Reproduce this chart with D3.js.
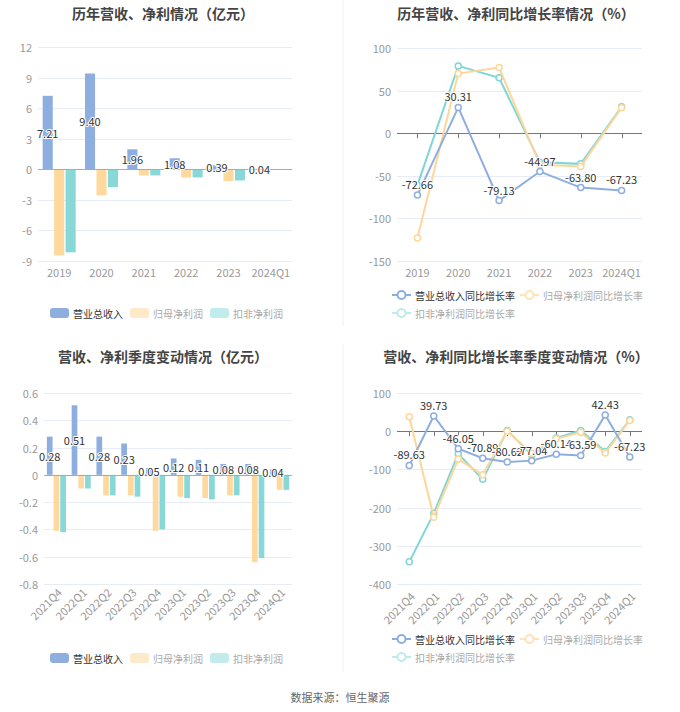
<!DOCTYPE html>
<html><head><meta charset="utf-8">
<script src="https://cdn.jsdelivr.net/npm/d3@7"></script>
<style>
body{margin:0;background:#fff;}
svg{font-family:"Noto Sans CJK SC","Noto Sans",sans-serif;}
</style></head>
<body><svg id="c" width="680" height="712"></svg>
<script>
// ---- data ----
const years = ["2019","2020","2021","2022","2023","2024Q1"];
const yearRevenue = [7.21, 9.40, 1.96, 1.08, 0.39, 0.04];
const yearNetProfit = [-8.45, -2.55, -0.60, -0.80, -1.15, -0.05];
const yearDeductedProfit = [-8.15, -1.75, -0.60, -0.80, -1.10, -0.05];
const yearRevenueGrowth = [-72.66, 30.31, -79.13, -44.97, -63.80, -67.23];
const yearNetGrowth = [-123, 70, 77, -37, -39, 30];
const yearDeductedGrowth = [-61, 79, 65, -34, -36, 31];
const quarters = ["2021Q4","2022Q1","2022Q2","2022Q3","2022Q4","2023Q1","2023Q2","2023Q3","2023Q4","2024Q1"];
const qRevenue = [0.28, 0.51, 0.28, 0.23, 0.05, 0.12, 0.11, 0.08, 0.08, 0.04];
const qNetProfit = [-0.41, -0.10, -0.15, -0.15, -0.41, -0.16, -0.17, -0.15, -0.64, -0.11];
const qDeductedProfit = [-0.42, -0.10, -0.15, -0.16, -0.40, -0.17, -0.18, -0.15, -0.61, -0.11];
const qRevenueGrowth = [-89.63, 39.73, -46.05, -70.89, -80.62, -77.04, -60.14, -63.59, 42.43, -67.23];
const qNetGrowth = [38, -225, -73, -114, 0, -58, -20, -3, -57, 28];
const qDeductedGrowth = [-342, -215, -59, -126, 2, -62, -18, 2, -53, 30];
const barNames = ["营业总收入","归母净利润","扣非净利润"];
const lineNames = ["营业总收入同比增长率","归母净利润同比增长率","扣非净利润同比增长率"];
const ticks1 = [-9,-6,-3,0,3,6,9,12];
const ticks2 = [-150,-100,-50,0,50,100];
const ticks3 = [-0.8,-0.6,-0.4,-0.2,0,0.2,0.4,0.6];
const ticks4 = [-400,-300,-200,-100,0,100];

const barColors = ["#8eaee0","#ffd89e","#88d8d8"];
const lineColors = ["#8eaee0","#ffd699","#80d6d6"];
const legendBarColors = ["#8eaee0","#fee9c8","#c2ebeb"];
const legendLineColors = ["#8eaee0","#ffe3b8","#bfeaea"];

const svg = d3.select("#c");

// dividers
svg.append("line").attr("x1",343).attr("x2",343).attr("y1",0).attr("y2",326).attr("stroke","#f0f0f0");
svg.append("line").attr("x1",343).attr("x2",343).attr("y1",344).attr("y2",672).attr("stroke","#f0f0f0");

function title(x,y,t){
  svg.append("text").attr("x",x).attr("y",y).attr("text-anchor","middle").attr("dominant-baseline","central")
    .attr("font-size",14).attr("font-weight","bold").attr("fill","#444").text(t);
}
title(163,13,"历年营收、净利情况（亿元）");
title(516,13,"历年营收、净利同比增长率情况（%）");
title(163,356,"营收、净利季度变动情况（亿元）");
title(516,356,"营收、净利同比增长率季度变动情况（%）");

svg.append("text").attr("x",340).attr("y",697).attr("text-anchor","middle").attr("dominant-baseline","central")
  .attr("font-size",11).attr("fill","#666").text("数据来源：恒生聚源");

function yAxis(y, ticks, x0, x1, fmt){
  const g = svg.append("g");
  ticks.forEach(t=>{
    if(t!==0) g.append("line").attr("x1",x0).attr("x2",x1).attr("y1",Math.round(y(t))+0.5).attr("y2",Math.round(y(t))+0.5).attr("stroke","#e8ecf6");
    g.append("text").attr("x",x0-6).attr("y",y(t)).attr("text-anchor","end").attr("dominant-baseline","central")
      .attr("font-size",11).attr("fill","#999").text(fmt(t));
  });
}
function zeroLine(y,x0,x1,color){
  svg.append("line").attr("x1",x0).attr("x2",x1).attr("y1",Math.round(y(0))+0.5).attr("y2",Math.round(y(0))+0.5).attr("stroke",color);
}
function label(x,y,t){
  svg.append("text").attr("x",x).attr("y",y).attr("text-anchor","middle").attr("dominant-baseline","central")
    .attr("font-size",11).attr("fill","#333").attr("stroke","#fff").attr("stroke-width",2).attr("paint-order","stroke").text(t);
}

function barChart(cats, series, ticks, x0,x1, yTop,yBot, dom, pIn, pSub, rotate, labelY, legendY, fmt){
  const y = d3.scaleLinear().domain(dom).range([yBot,yTop]);
  yAxis(y, ticks, x0, x1, fmt);
  const x = d3.scaleBand().domain(cats).range([x0,x1]).paddingInner(pIn).paddingOuter(pIn/2);
  const xs = d3.scaleBand().domain([0,1,2]).range([0,x.bandwidth()]).paddingInner(pSub);
  series.forEach((vals,si)=>{
    svg.append("g").selectAll("rect").data(vals).join("rect")
      .attr("x",(d,i)=>x(cats[i])+xs(si)).attr("width",xs.bandwidth())
      .attr("y",d=>Math.min(y(d),y(0))).attr("height",d=>Math.abs(y(d)-y(0)))
      .attr("fill",barColors[si]);
  });
  zeroLine(y,x0,x1,"#aaa");
  series[0].forEach((v,i)=>{
    label(x(cats[i])+xs(0)+xs.bandwidth()/2, (y(v)+y(0))/2, v.toFixed(2));
  });
  cats.forEach(c=>{
    const cx = x(c)+x.bandwidth()/2;
    if(rotate){
      svg.append("text").attr("transform",`translate(${cx+3},${labelY}) rotate(-45)`).attr("text-anchor","end")
        .attr("dominant-baseline","central").attr("font-size",11).attr("fill","#999").text(c);
    } else {
      svg.append("text").attr("x",cx).attr("y",labelY).attr("text-anchor","middle").attr("dominant-baseline","central")
        .attr("font-size",11).attr("fill","#999").text(c);
    }
  });
  // legend
  const lx = [50,130,210];
  barNames.forEach((n,i)=>{
    svg.append("rect").attr("x",lx[i]).attr("y",legendY-5).attr("width",19).attr("height",10).attr("rx",3).attr("fill",legendBarColors[i]);
    svg.append("text").attr("x",lx[i]+23).attr("y",legendY).attr("dominant-baseline","central").attr("font-size",10)
      .attr("fill",i===0?"#333":"#aaa").text(n);
  });
}

function lineChart(cats, series, ticks, x0,x1, yTop,yBot, dom, rotate, labelY, legendY1, legendY2){
  const y = d3.scaleLinear().domain(dom).range([yBot,yTop]);
  yAxis(y, ticks, x0, x1, d=>d);
  const x = d3.scalePoint().domain(cats).range([x0,x1]).padding(0.5);
  zeroLine(y,x0,x1,"#777");
  cats.forEach(c=>{
    svg.append("line").attr("x1",Math.round(x(c))+0.5).attr("x2",Math.round(x(c))+0.5).attr("y1",y(0)).attr("y2",y(0)+5).attr("stroke","#777");
  });
  const line = d3.line().x((d,i)=>x(cats[i])).y(d=>y(d));
  [2,1,0].forEach(si=>{
    const vals = series[si];
    svg.append("path").datum(vals).attr("d",line).attr("fill","none").attr("stroke",lineColors[si]).attr("stroke-width",2);
    svg.append("g").selectAll("circle").data(vals).join("circle")
      .attr("cx",(d,i)=>x(cats[i])).attr("cy",d=>y(d)).attr("r",3)
      .attr("fill","#fff").attr("stroke",lineColors[si]).attr("stroke-width",1.5);
  });
  series[0].forEach((v,i)=>label(x(cats[i]), y(v)-11, v.toFixed(2)));
  cats.forEach(c=>{
    const cx = x(c);
    if(rotate){
      svg.append("text").attr("transform",`translate(${cx+3},${labelY}) rotate(-45)`).attr("text-anchor","end")
        .attr("dominant-baseline","central").attr("font-size",11).attr("fill","#999").text(c);
    } else {
      svg.append("text").attr("x",cx).attr("y",labelY).attr("text-anchor","middle").attr("dominant-baseline","central")
        .attr("font-size",11).attr("fill","#999").text(c);
    }
  });
  const pos = [[392,legendY1],[520,legendY1],[392,legendY2]];
  lineNames.forEach((n,i)=>{
    const [lx,ly] = pos[i];
    svg.append("line").attr("x1",lx).attr("x2",lx+19).attr("y1",ly).attr("y2",ly).attr("stroke",legendLineColors[i]).attr("stroke-width",2);
    svg.append("circle").attr("cx",lx+9.5).attr("cy",ly).attr("r",4).attr("fill","#fff").attr("stroke",legendLineColors[i]).attr("stroke-width",2);
    svg.append("text").attr("x",lx+23).attr("y",ly).attr("dominant-baseline","central").attr("font-size",10)
      .attr("fill",i===0?"#333":"#aaa").text(n);
  });
}

barChart(years,[yearRevenue,yearNetProfit,yearDeductedProfit],ticks1,38,292,47,261,[-9,12],0.22,0.12,false,272,313,d=>d);
lineChart(years,[yearRevenueGrowth,yearNetGrowth,yearDeductedGrowth],ticks2,397,642,48,261,[-150,100],false,272,295,313);
barChart(quarters,[qRevenue,qNetProfit,qDeductedProfit],ticks3,44,292,393,584,[-0.8,0.6],0.23,0.15,true,590,658,d=>d===0?"0":d.toFixed(1));
lineChart(quarters,[qRevenueGrowth,qNetGrowth,qDeductedGrowth],ticks4,397,642,393,584,[-400,100],true,594,639,657);
</script></body></html>
